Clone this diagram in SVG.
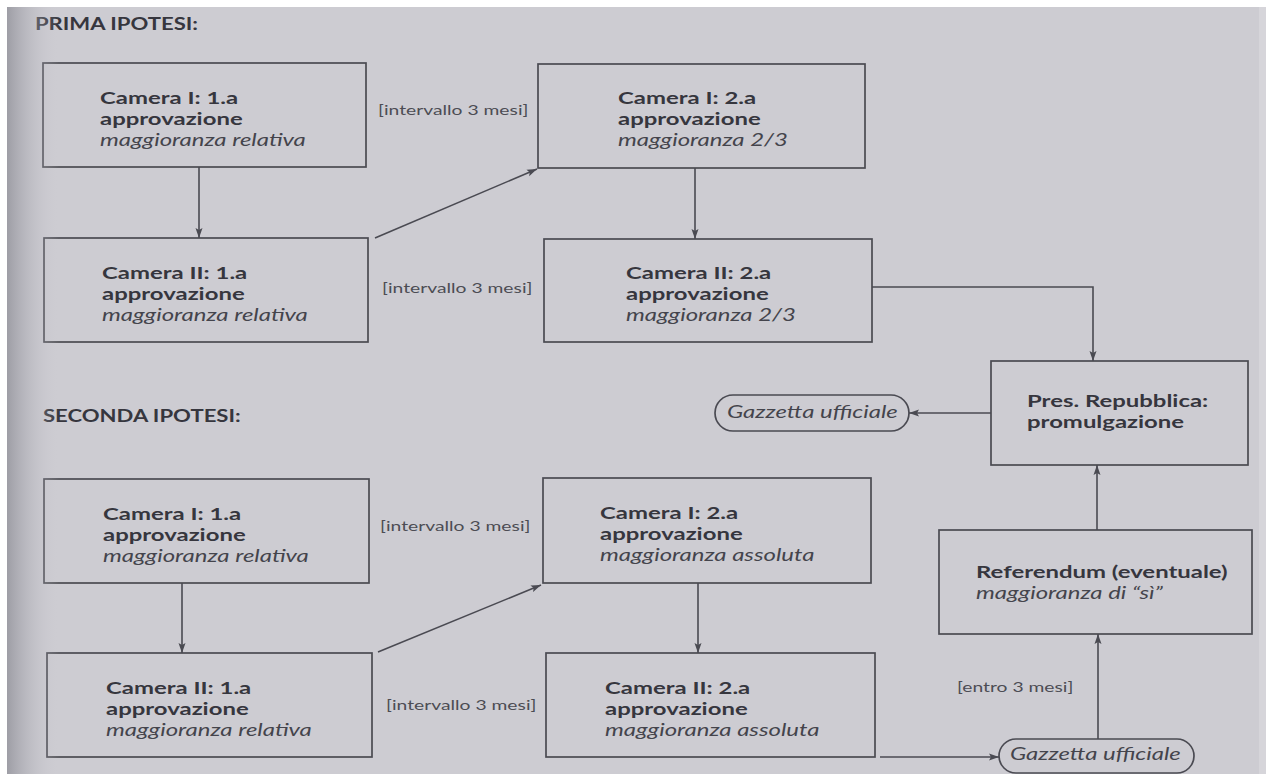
<svg xmlns="http://www.w3.org/2000/svg" width="1266" height="774" viewBox="0 0 1266 774">
  <style>
    .box { fill: none; stroke: #4a4a52; stroke-width: 1.7; }
    .pill { fill: none; stroke: #4a4a52; stroke-width: 1.7; }
    .edge { fill: none; stroke: #4a4a52; stroke-width: 1.6; }
    text { font-family: Lato, "Open Sans", "Liberation Sans", sans-serif; }
    .b { font-weight: 700; font-size: 17.5px; fill: #36363e; }
    .i { font-style: italic; font-size: 17.5px; fill: #44444c; }
    .gz { font-style: italic; font-size: 16.5px; fill: #44444c; }
    .lbl { font-size: 13.3px; fill: #4c4c54; }
    .ttl { font-weight: 700; font-size: 17px; fill: #36363e; }
  </style>
  <defs>
    <marker id="arr" markerUnits="userSpaceOnUse" markerWidth="11" markerHeight="8" refX="10" refY="4" orient="auto">
      <path d="M0,0.5 L10,4 L0,7.5 L2,4 z" fill="#4a4a52"/>
    </marker>
    <linearGradient id="bind" x1="0" y1="0" x2="1" y2="0">
      <stop offset="0" stop-color="#8e8e96" stop-opacity="0.75"/>
      <stop offset="0.35" stop-color="#a4a4ac" stop-opacity="0.5"/>
      <stop offset="1" stop-color="#cdccd2" stop-opacity="0"/>
    </linearGradient>
  </defs>

  <!-- page -->
  <rect x="0" y="0" width="1266" height="774" fill="#ffffff"/>
  <rect x="7" y="7" width="1259" height="767" fill="#cdccd2"/>
  <rect x="1259" y="7" width="7" height="767" fill="#d6d5da"/>

  <!-- titles -->
  <text class="ttl" transform="translate(198,30) scale(1.3,1)" text-anchor="end">PRIMA IPOTESI:</text>
  <text class="ttl" transform="translate(43,422) scale(1.3,1)">SECONDA IPOTESI:</text>

  <!-- PRIMA IPOTESI -->
  <g id="a1">
    <rect class="box" x="43" y="63" width="323" height="104"/>
    <text transform="translate(100,104) scale(1.367,1)"><tspan class="b" x="0" y="0">Camera I: 1.a</tspan><tspan class="b" x="0" y="21">approvazione</tspan><tspan class="i" x="0" y="42">maggioranza relativa</tspan></text>
  </g>
  <g id="a2">
    <rect class="box" x="44" y="238" width="324" height="104"/>
    <text transform="translate(102,279) scale(1.367,1)"><tspan class="b" x="0" y="0">Camera II: 1.a</tspan><tspan class="b" x="0" y="21">approvazione</tspan><tspan class="i" x="0" y="42">maggioranza relativa</tspan></text>
  </g>
  <g id="a3">
    <rect class="box" x="538" y="64" width="327" height="104"/>
    <text transform="translate(618,104) scale(1.367,1)"><tspan class="b" x="0" y="0">Camera I: 2.a</tspan><tspan class="b" x="0" y="21">approvazione</tspan><tspan class="i" x="0" y="42">maggioranza 2/3</tspan></text>
  </g>
  <g id="a4">
    <rect class="box" x="544" y="239" width="328" height="103"/>
    <text transform="translate(626,279) scale(1.367,1)"><tspan class="b" x="0" y="0">Camera II: 2.a</tspan><tspan class="b" x="0" y="21">approvazione</tspan><tspan class="i" x="0" y="42">maggioranza 2/3</tspan></text>
  </g>

  <!-- promulgazione -->
  <g id="pres">
    <rect class="box" x="991" y="361" width="257" height="104"/>
    <text transform="translate(1027,407) scale(1.367,1)"><tspan class="b" x="0" y="0">Pres. Repubblica:</tspan><tspan class="b" x="0" y="21">promulgazione</tspan></text>
  </g>
  <g id="gazz1">
    <rect class="pill" x="715" y="395" width="194" height="36" rx="18" ry="18"/>
    <text class="gz" transform="translate(727,418) scale(1.45,1)">Gazzetta ufficiale</text>
  </g>

  <!-- SECONDA IPOTESI -->
  <g id="b1">
    <rect class="box" x="44" y="479" width="325" height="104"/>
    <text transform="translate(103,520) scale(1.367,1)"><tspan class="b" x="0" y="0">Camera I: 1.a</tspan><tspan class="b" x="0" y="21">approvazione</tspan><tspan class="i" x="0" y="42">maggioranza relativa</tspan></text>
  </g>
  <g id="b2">
    <rect class="box" x="47" y="653" width="325" height="104"/>
    <text transform="translate(106,694) scale(1.367,1)"><tspan class="b" x="0" y="0">Camera II: 1.a</tspan><tspan class="b" x="0" y="21">approvazione</tspan><tspan class="i" x="0" y="42">maggioranza relativa</tspan></text>
  </g>
  <g id="b3">
    <rect class="box" x="543" y="478" width="328" height="105"/>
    <text transform="translate(600,519) scale(1.367,1)"><tspan class="b" x="0" y="0">Camera I: 2.a</tspan><tspan class="b" x="0" y="21">approvazione</tspan><tspan class="i" x="0" y="42">maggioranza assoluta</tspan></text>
  </g>
  <g id="b4">
    <rect class="box" x="546" y="653" width="329" height="104"/>
    <text transform="translate(605,694) scale(1.367,1)"><tspan class="b" x="0" y="0">Camera II: 2.a</tspan><tspan class="b" x="0" y="21">approvazione</tspan><tspan class="i" x="0" y="42">maggioranza assoluta</tspan></text>
  </g>
  <g id="ref">
    <rect class="box" x="939" y="530" width="313" height="104"/>
    <text transform="translate(976,578) scale(1.367,1)"><tspan class="b" x="0" y="0">Referendum (eventuale)</tspan><tspan class="i" x="0" y="21">maggioranza di “sì”</tspan></text>
  </g>
  <g id="gazz2">
    <rect class="pill" x="999" y="739" width="195" height="34" rx="17" ry="17"/>
    <text class="gz" transform="translate(1010,760) scale(1.45,1)">Gazzetta ufficiale</text>
  </g>

  <!-- connector labels -->
  <g id="labels">
    <text class="lbl" transform="translate(378,115) scale(1.45,1)">[intervallo 3 mesi]</text>
    <text class="lbl" transform="translate(382,293) scale(1.45,1)">[intervallo 3 mesi]</text>
    <text class="lbl" transform="translate(380,531) scale(1.45,1)">[intervallo 3 mesi]</text>
    <text class="lbl" transform="translate(386,710) scale(1.45,1)">[intervallo 3 mesi]</text>
    <text class="lbl" transform="translate(957,692) scale(1.45,1)">[entro 3 mesi]</text>
  </g>

  <!-- connectors -->
  <g id="connectors">
    <line class="edge" x1="199" y1="167" x2="199" y2="238" marker-end="url(#arr)"/>
    <line class="edge" x1="375" y1="238" x2="537" y2="169" marker-end="url(#arr)"/>
    <line class="edge" x1="695" y1="168" x2="695" y2="239" marker-end="url(#arr)"/>
    <polyline class="edge" points="872,287 1093,287 1093,361" marker-end="url(#arr)"/>
    <line class="edge" x1="991" y1="413" x2="909" y2="413" marker-end="url(#arr)"/>
    <line class="edge" x1="182" y1="583" x2="182" y2="653" marker-end="url(#arr)"/>
    <line class="edge" x1="378" y1="652" x2="541" y2="585" marker-end="url(#arr)"/>
    <line class="edge" x1="698" y1="583" x2="698" y2="653" marker-end="url(#arr)"/>
    <line class="edge" x1="880" y1="757" x2="999" y2="757" marker-end="url(#arr)"/>
    <line class="edge" x1="1098" y1="739" x2="1098" y2="634" marker-end="url(#arr)"/>
    <line class="edge" x1="1097" y1="530" x2="1097" y2="465" marker-end="url(#arr)"/>
  </g>

  <!-- binding shadow -->
  <rect x="7" y="7" width="52" height="767" fill="url(#bind)"/>
</svg>
